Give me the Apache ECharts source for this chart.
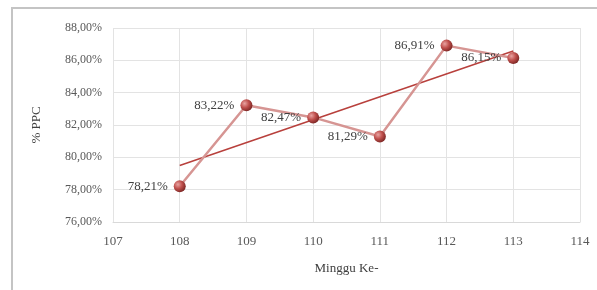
<!DOCTYPE html>
<html>
<head>
<meta charset="utf-8">
<script src="https://cdn.jsdelivr.net/npm/echarts@6/dist/echarts.min.js"></script>
<style>
  html, body { margin: 0; padding: 0; background: #fff; }
  #chart { width: 597px; height: 290px; }
</style>
</head>
<body>
<div id="chart"></div>
<script>
// minggu ke- (x) dan %PPC (y)
const weeks = [108, 109, 110, 111, 112, 113]
const ppc = [78.21, 83.22, 82.47, 81.29, 86.91, 86.15]
// garis tren linear, titik ujung
const trendWeeks = [108, 113]
const trendValues = [79.50, 86.58]

const serif = 'Liberation Serif'
const fmt = v => v.toFixed(2).replace('.', ',') + '%'

const chart = echarts.init(document.getElementById('chart'))

const markerColor = new echarts.graphic.RadialGradient(0.35, 0.35, 0.7, [
  { offset: 0, color: '#e8a3a1' },
  { offset: 0.5, color: '#c0504d' },
  { offset: 1, color: '#7a2523' }
])

chart.setOption({
  animation: false,
  graphic: [{
    type: 'rect',
    shape: { x: 12, y: 8, width: 600, height: 300 },
    style: { fill: 'none', stroke: '#c4c4c4', lineWidth: 2 },
    silent: true
  }],
  grid: { left: 113, right: 17, top: 28, bottom: 68 },
  xAxis: {
    type: 'value',
    min: 107,
    max: 114,
    interval: 1,
    name: 'Minggu Ke-',
    nameLocation: 'middle',
    nameGap: 40,
    nameTextStyle: { fontFamily: serif, fontSize: 13, color: '#404040' },
    axisLine: { lineStyle: { color: '#d9d9d9' } },
    axisTick: { show: false },
    axisLabel: { fontFamily: serif, fontSize: 13, color: '#595959', margin: 13 },
    splitLine: { show: true, lineStyle: { color: '#e3e3e3' } }
  },
  yAxis: {
    type: 'value',
    min: 76,
    max: 88,
    interval: 2,
    name: '% PPC',
    nameLocation: 'middle',
    nameGap: 70,
    nameTextStyle: { fontFamily: serif, fontSize: 13, color: '#404040' },
    axisLine: { show: false },
    axisTick: { show: false },
    axisLabel: {
      fontFamily: serif, fontSize: 12, color: '#595959', margin: 11,
      formatter: v => fmt(v)
    },
    splitLine: { lineStyle: { color: '#e3e3e3' } }
  },
  series: [
    {
      name: 'PPC',
      type: 'line',
      data: weeks.map((w, i) => [w, ppc[i]]),
      symbol: 'circle',
      symbolSize: 12,
      itemStyle: { color: markerColor, borderWidth: 0 },
      lineStyle: { color: '#d69593', width: 2.5 },
      label: {
        show: true,
        position: 'left',
        distance: 6,
        fontFamily: serif,
        fontSize: 13,
        color: '#404040',
        formatter: p => fmt(p.value[1])
      },
      z: 3
    },
    {
      name: 'Tren',
      type: 'line',
      data: trendWeeks.map((w, i) => [w, trendValues[i]]),
      symbol: 'none',
      lineStyle: { color: '#b8403c', width: 1.5 },
      z: 2
    }
  ]
})
</script>
</body>
</html>
